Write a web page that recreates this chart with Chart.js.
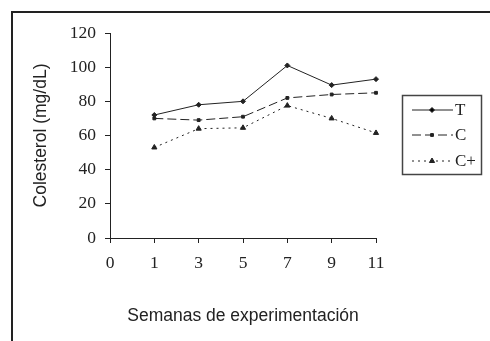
<!DOCTYPE html>
<html>
<head>
<meta charset="utf-8">
<script src="https://cdn.jsdelivr.net/npm/chart.js@4/dist/chart.umd.min.js"></script>
<style>
  html, body { margin: 0; padding: 0; background: #fff; }
  #wrap { width: 490px; height: 341px; position: relative; }
</style>
</head>
<body>
<div id="wrap"><canvas id="chart" width="490" height="341"></canvas></div>
<script>
// datos
const semanas = ['0', '1', '3', '5', '7', '9', '11'];
const serieT = [null, 72, 78, 80, 101, 89.5, 93];
const serieC = [null, 70, 69, 71, 82, 84, 85];
const serieCmas = [null, 53, 64, 64.5, 77.5, 70, 61.5];
const yTicks = [0, 20, 40, 60, 80, 100, 120];

const serif = '"Liberation Serif", "Times New Roman", serif';
const sans = '"Liberation Sans", Arial, sans-serif';
const ink = '#222';

// marco exterior (se corta por la derecha y abajo)
const framePlugin = {
  id: 'frame',
  beforeDraw(chart) {
    const ctx = chart.ctx;
    ctx.save();
    ctx.strokeStyle = ink;
    ctx.lineWidth = 2;
    ctx.strokeRect(12, 12, 600, 600);
    ctx.restore();
  }
};

// leyenda dibujada a mano, como en el original
const legendBox = {
  id: 'legendBox',
  afterDraw(chart) {
    const ctx = chart.ctx;
    ctx.save();
    ctx.strokeStyle = '#444';
    ctx.lineWidth = 1.5;
    ctx.strokeRect(402.5, 95.5, 79, 79);
    const rows = [110, 135, 161];
    chart.data.datasets.forEach((ds, i) => {
      const y = rows[i];
      ctx.strokeStyle = ink;
      ctx.lineWidth = 1;
      ctx.setLineDash(ds.borderDash || []);
      ctx.beginPath();
      ctx.moveTo(412, y);
      ctx.lineTo(453, y);
      ctx.stroke();
      ctx.setLineDash([]);
      Chart.helpers.drawPoint(ctx, {
        pointStyle: ds.pointStyle,
        radius: ds.pointRadius,
        borderWidth: 1
      }, 432, y);
      ctx.fillStyle = ink;
      ctx.font = '17px ' + serif;
      ctx.textBaseline = 'middle';
      ctx.textAlign = 'left';
      ctx.fillText(ds.label, 455, y + 1);
    });
    ctx.restore();
  }
};

new Chart(document.getElementById('chart'), {
  type: 'line',
  data: {
    labels: semanas,
    datasets: [
      { label: 'T', data: serieT, borderColor: ink, backgroundColor: ink,
        borderWidth: 1, pointStyle: 'rectRot', pointRadius: 2.5, tension: 0 },
      { label: 'C', data: serieC, borderColor: ink, backgroundColor: ink,
        borderWidth: 1, borderDash: [9, 4], pointStyle: 'rect', pointRadius: 2, tension: 0 },
      { label: 'C+', data: serieCmas, borderColor: ink, backgroundColor: ink,
        borderWidth: 1, borderDash: [2, 4], pointStyle: 'triangle', pointRadius: 3, tension: 0 }
    ]
  },
  options: {
    responsive: false,
    animation: false,
    events: [],
    layout: { padding: { left: 0, top: 33, right: 114, bottom: 0 } },
    plugins: { legend: { display: false }, tooltip: { enabled: false } },
    scales: {
      x: {
        type: 'category',
        offset: false,
        grid: { drawOnChartArea: false, drawTicks: true, tickLength: 5, color: ink },
        border: { color: ink, width: 1 },
        ticks: { color: ink, padding: 10, font: { family: serif, size: 17.5 }, maxRotation: 0 },
        title: { display: true, text: 'Semanas de experimentación', color: ink,
                 font: { family: sans, size: 17.5 }, padding: { top: 0, bottom: 14 } },
        afterFit(scale) { scale.height = 341 - 238; }
      },
      y: {
        min: 0, max: 120,
        grid: { drawOnChartArea: false, drawTicks: true, tickLength: 5, color: ink },
        border: { color: ink, width: 1 },
        ticks: {
          stepSize: 10, color: ink, padding: 9, font: { family: serif, size: 17.5 },
          callback: v => yTicks.includes(v) ? String(v) : ''
        },
        title: { display: true, text: 'Colesterol (mg/dL)', color: ink,
                 font: { family: sans, size: 17.5 }, padding: { top: 31, bottom: 0 } },
        afterFit(scale) { scale.width = 110; }
      }
    }
  },
  plugins: [framePlugin, legendBox]
});
</script>
</body>
</html>
